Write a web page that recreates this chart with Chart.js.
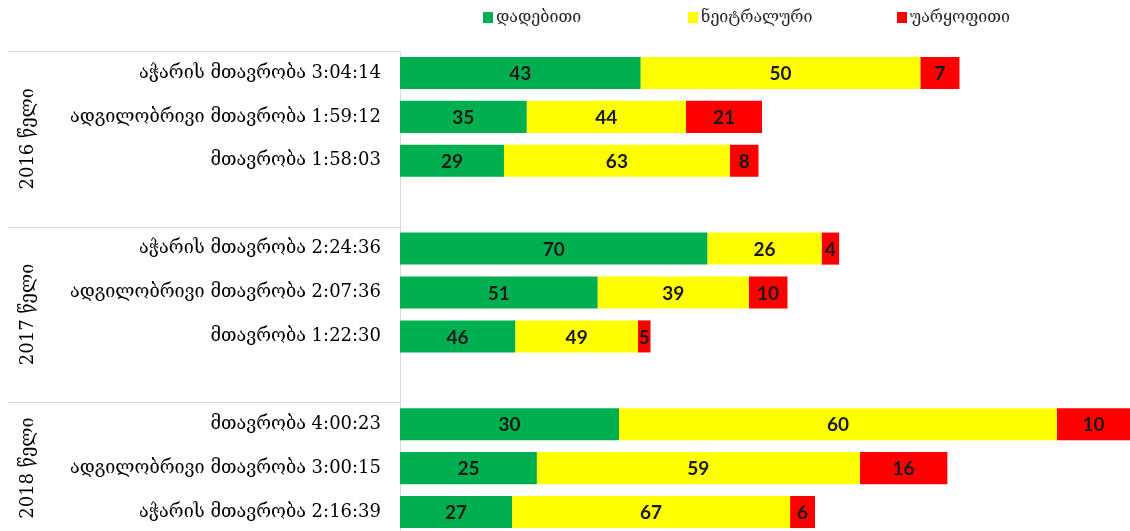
<!DOCTYPE html>
<html>
<head>
<meta charset="utf-8">
<script src="https://cdn.jsdelivr.net/npm/chart.js@4/dist/chart.umd.min.js"></script>
<style>
  html, body { margin: 0; padding: 0; background: #fff; overflow: hidden; }
  #wrap { position: relative; width: 1130px; height: 534px; }
</style>
</head>
<body>
<div id="wrap"><canvas id="chart"></canvas></div>
<script>
// groups (years), three rows each, read top to bottom
const years = ['2016 წელი', '2017 წელი', '2018 წელი'];
const bodies = [
  'აჭარის მთავრობა', 'ადგილობრივი მთავრობა', 'მთავრობა',
  'აჭარის მთავრობა', 'ადგილობრივი მთავრობა', 'მთავრობა',
  'მთავრობა', 'ადგილობრივი მთავრობა', 'აჭარის მთავრობა',
];
// total airtime (h:mm:ss) - sets the bar length
const durations = [
  '3:04:14', '1:59:12', '1:58:03',
  '2:24:36', '2:07:36', '1:22:30',
  '4:00:23', '3:00:15', '2:16:39',
];
// share of coverage, %
const positive = [43, 35, 29, 70, 51, 46, 30, 25, 27];
const neutral  = [50, 44, 63, 26, 39, 49, 60, 59, 67];
const negative = [7, 21, 8, 4, 10, 5, 10, 16, 6];

const seriesNames = ['დადებითი', 'ნეიტრალური', 'უარყოფითი'];
const seriesColors = ['#00B050', '#FFFF00', '#FF0000'];

function toMinutes(s) {
  const p = s.split(':').map(Number);
  return p[0] * 60 + p[1] + p[2] / 60;
}

// build slots: 3 rows per year + an empty slot between years
const labels = [];
const rowIndex = []; // slot -> row in the arrays above (or null)
const groupStart = [];
for (let g = 0; g < years.length; g++) {
  groupStart.push(labels.length);
  for (let k = 0; k < 3; k++) {
    const i = g * 3 + k;
    labels.push(bodies[i] + ' ' + durations[i]);
    rowIndex.push(i);
  }
  if (g < years.length - 1) {
    labels.push('');
    rowIndex.push(null);
  }
}

// segment length = share of the row's airtime
function segment(pcts) {
  return rowIndex.map(i => i === null ? null : toMinutes(durations[i]) * pcts[i] / 100);
}
const shares = [positive, neutral, negative];
const maxMinutes = Math.max(...durations.map(toMinutes));

// percent labels inside each segment
const segmentLabels = {
  id: 'segmentLabels',
  afterDatasetsDraw(chart) {
    const ctx = chart.ctx;
    ctx.save();
    ctx.font = 'bold 19px Lato, "Liberation Sans", sans-serif';
    ctx.fillStyle = '#1a1a1a';
    ctx.textAlign = 'center';
    ctx.textBaseline = 'middle';
    chart.data.datasets.forEach((ds, d) => {
      chart.getDatasetMeta(d).data.forEach((bar, j) => {
        const i = rowIndex[j];
        if (i === null) return;
        const p = bar.getProps(['x', 'y', 'base'], true);
        ctx.fillText(String(shares[d][i]), (p.x + p.base) / 2, p.y + 1);
      });
    });
    ctx.restore();
  }
};

// year labels + group separator lines on the category axis
const yearGroups = {
  id: 'yearGroups',
  afterDraw(chart) {
    const ctx = chart.ctx;
    const y = chart.scales.y;
    const area = chart.chartArea;
    const half = (y.getPixelForValue(1) - y.getPixelForValue(0)) / 2;
    ctx.save();
    ctx.strokeStyle = '#d9d9d9';
    ctx.lineWidth = 1;
    groupStart.forEach(s => {
      const top = Math.round(y.getPixelForValue(s) - half) + 0.5;
      ctx.beginPath();
      ctx.moveTo(8, top);
      ctx.lineTo(area.left, top);
      ctx.stroke();
    });
    ctx.font = '18px "DejaVu Serif", serif';
    ctx.fillStyle = '#000';
    ctx.textAlign = 'center';
    ctx.textBaseline = 'middle';
    years.forEach((yr, g) => {
      const top = y.getPixelForValue(groupStart[g]) - half;
      const end = g < years.length - 1 ? y.getPixelForValue(groupStart[g + 1]) - half : area.bottom;
      ctx.save();
      ctx.translate(28, (top + end) / 2);
      ctx.rotate(-Math.PI / 2);
      ctx.fillText(yr, 0, 0);
      ctx.restore();
    });
    ctx.restore();
  }
};

// legend spread across the top
const topLegend = {
  id: 'topLegend',
  afterDraw(chart) {
    const ctx = chart.ctx;
    const xs = [483, 688, 897];
    ctx.save();
    ctx.font = '16px "DejaVu Serif", serif';
    ctx.textBaseline = 'middle';
    ctx.textAlign = 'left';
    chart.data.datasets.forEach((ds, d) => {
      ctx.fillStyle = ds.backgroundColor;
      ctx.fillRect(xs[d], 12, 10, 11);
      ctx.fillStyle = '#262626';
      ctx.fillText(ds.label, xs[d] + 13, 18);
    });
    ctx.restore();
  }
};

new Chart(document.getElementById('chart'), {
  type: 'bar',
  data: {
    labels: labels,
    datasets: shares.map((pcts, d) => ({
      label: seriesNames[d],
      data: segment(pcts),
      backgroundColor: seriesColors[d],
      borderWidth: 0,
      barPercentage: 0.73,
      categoryPercentage: 1,
    })),
  },
  options: {
    indexAxis: 'y',
    responsive: true,
    maintainAspectRatio: false,
    animation: false,
    layout: { padding: { top: 51, left: 0, right: 0, bottom: 0 } },
    plugins: {
      legend: { display: false },
      tooltip: { enabled: false },
    },
    scales: {
      x: {
        stacked: true,
        display: false,
        min: 0,
        max: maxMinutes,
      },
      y: {
        stacked: true,
        grid: { display: false, drawTicks: false },
        border: { display: true, color: '#d9d9d9' },
        ticks: {
          padding: 19,
          color: '#000',
          font: { family: '"DejaVu Serif", serif', size: 18 },
          autoSkip: false,
        },
        afterFit(scale) {
          scale.width = 400;
          scale.paddingTop = 0;
          scale.paddingBottom = 0;
        },
      },
    },
  },
  plugins: [segmentLabels, yearGroups, topLegend],
});
</script>
</body>
</html>
